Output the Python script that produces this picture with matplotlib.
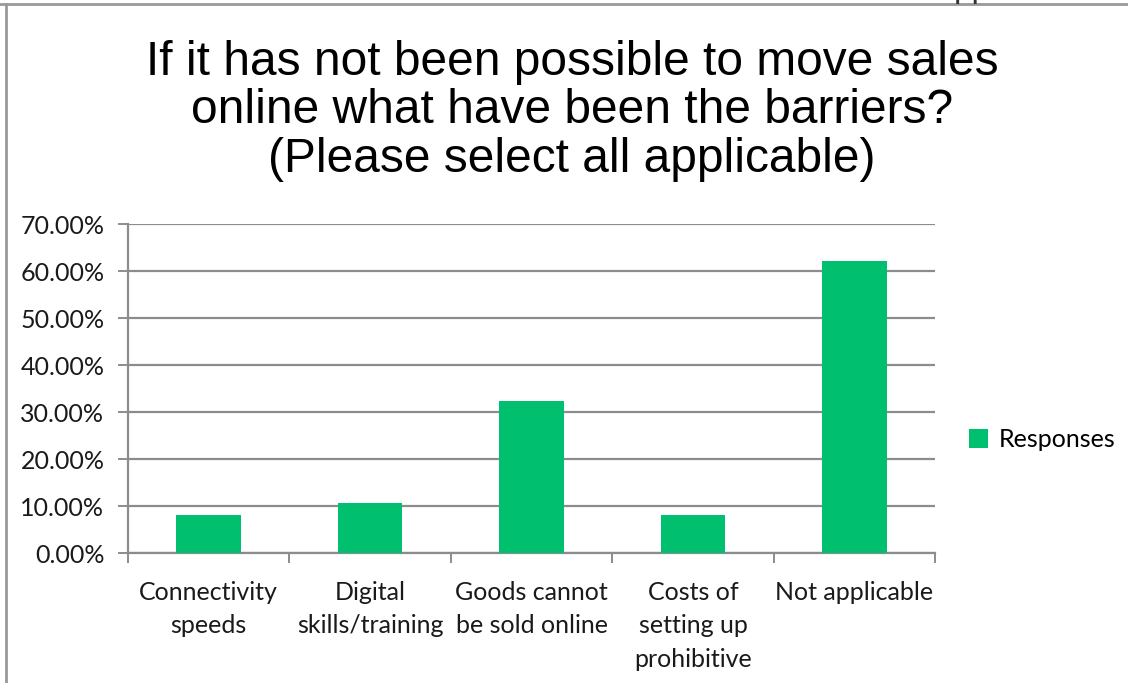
import matplotlib
matplotlib.use("Agg")
import matplotlib.pyplot as plt
from matplotlib.lines import Line2D
from matplotlib.ticker import FuncFormatter, FixedLocator

# data
categories = ["Connectivity\nspeeds", "Digital\nskills/training", "Goods cannot\nbe sold online",
              "Costs of\nsetting up\nprohibitive", "Not applicable"]
responses = [8.1, 10.6, 32.3, 8.1, 62.1]
title = "If it has not been possible to move sales\nonline what have been the barriers?\n(Please select all applicable)"

bar_color = "#00BF6F"
grid_color = "#8C8C8C"
label_font = "Lato"
fs = 18

fig = plt.figure(figsize=(11.28, 6.83), dpi=100)
ax = fig.add_axes([0.1135, 0.1903, 0.7155, 0.4817])

x = list(range(len(categories)))
ax.bar(x, responses, width=0.4, color=bar_color, label="Responses", zorder=3)

ax.set_xlim(-0.5, len(categories) - 0.5)
ax.set_ylim(0, 70)
ax.set_yticks(range(0, 71, 10))
ax.yaxis.set_major_formatter(FuncFormatter(lambda v, p: "{:.2f}%".format(v)))
ax.grid(axis="y", color=grid_color, linewidth=1.6, zorder=0)

# category labels sit between the boundary ticks
ax.set_xticks(x)
ax.set_xticklabels(categories, fontsize=fs, family=label_font, color="#1a1a1a", linespacing=1.55)
ax.tick_params(axis="x", length=0, pad=20)
ax.xaxis.set_minor_locator(FixedLocator([i - 0.5 for i in range(len(categories) + 1)]))
ax.tick_params(axis="x", which="minor", length=7, width=1.4, color=grid_color)

ax.tick_params(axis="y", length=7, width=1.4, color=grid_color, labelsize=fs, pad=10)
for t in ax.get_yticklabels():
    t.set_family(label_font)
    t.set_color("#1a1a1a")

for s in ["top", "right"]:
    ax.spines[s].set_visible(False)
for s in ["left", "bottom"]:
    ax.spines[s].set_color(grid_color)
    ax.spines[s].set_linewidth(1.6)

fig.text(0.507, 0.838, title, ha="center", va="center", fontsize=34.5,
         family="Liberation Sans", linespacing=1.1)

fig.legend(loc="center left", bbox_to_anchor=(0.839, 0.356), frameon=False,
           prop={"family": label_font, "size": fs}, handlelength=0.75,
           handleheight=0.75, handletextpad=0.45)

# slide border (top and left edge) and clipped text from the slide above
fig.add_artist(Line2D([0, 1], [0.9935, 0.9935], transform=fig.transFigure, color="#999999", linewidth=2))
fig.add_artist(Line2D([0.0055, 0.0055], [0, 0.9935], transform=fig.transFigure, color="#999999", linewidth=2))
fig.text(0.846, 1.0044, "pp", fontsize=24, va="baseline", family="Liberation Sans", color="#333333")

fig.savefig("out.png", dpi=100, facecolor="white")
